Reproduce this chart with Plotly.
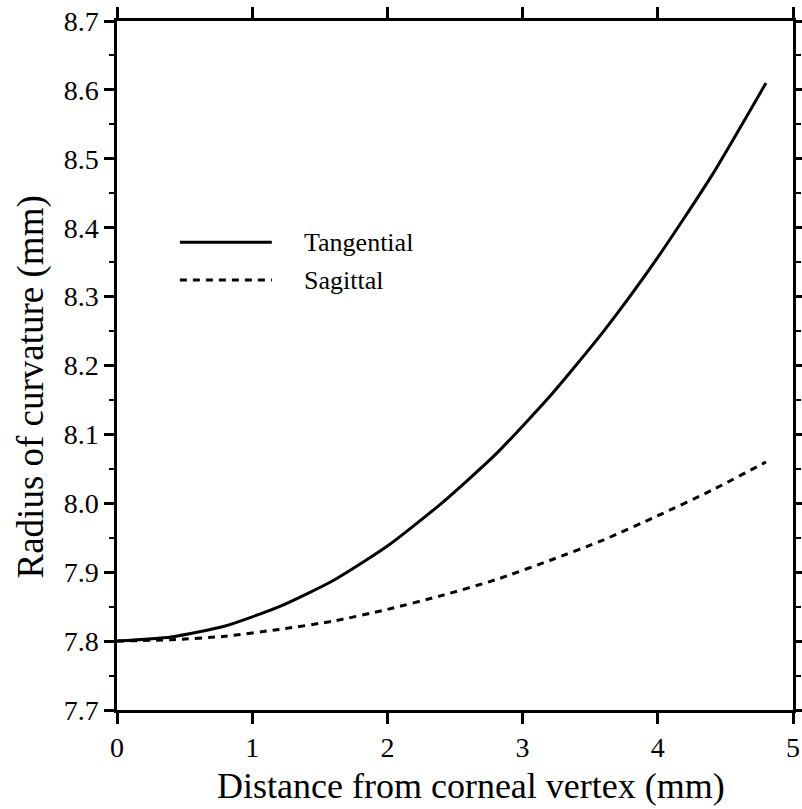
import plotly.graph_objects as go

# Radius of curvature along the cornea, tangential vs sagittal
distance_mm = [0.0, 0.4, 0.8, 1.2, 1.6, 2.0, 2.4, 2.8, 3.2, 3.6, 4.0, 4.4, 4.8]
tangential_mm = [7.800, 7.806, 7.822, 7.850, 7.888, 7.938, 8.000, 8.071, 8.155, 8.250, 8.357, 8.476, 8.610]
sagittal_mm = [7.800, 7.802, 7.807, 7.817, 7.829, 7.846, 7.866, 7.889, 7.917, 7.947, 7.982, 8.019, 8.060]

x_ticks = [0, 1, 2, 3, 4, 5]
y_ticks = [7.7, 7.8, 7.9, 8.0, 8.1, 8.2, 8.3, 8.4, 8.5, 8.6, 8.7]

FONT = "Liberation Serif, Times New Roman, serif"
INK = "black"

fig = go.Figure()
fig.add_trace(go.Scatter(
    x=distance_mm, y=tangential_mm, mode="lines", name="Tangential",
    line=dict(color=INK, width=3, shape="spline", smoothing=0.6),
))
fig.add_trace(go.Scatter(
    x=distance_mm, y=sagittal_mm, mode="lines", name="Sagittal",
    line=dict(color=INK, width=3, dash="7px,6px", shape="spline", smoothing=0.6),
))

axis_common = dict(
    showgrid=False, zeroline=False, showline=True, linecolor=INK, linewidth=2.5,
    mirror="allticks", ticks="outside", tickcolor=INK, tickwidth=2.5,
    tickfont=dict(family=FONT, size=28, color=INK), automargin=False,
)

fig.update_xaxes(
    range=[0, 5], tickvals=x_ticks, ticklen=11, **axis_common,
)
fig.update_yaxes(
    range=[7.7, 8.7], tickvals=y_ticks, tickformat=".1f", ticklen=10,
    minor=dict(dtick=0.05, ticklen=5, ticks="outside", tickcolor=INK, tickwidth=2),
    **axis_common,
)

# Legend drawn as sample strokes with labels beside them
legend_rows = [("Tangential", "solid", 0.679), ("Sagittal", "7px,6px", 0.624)]
for label, dash, yy in legend_rows:
    fig.add_shape(type="line", xref="paper", yref="paper",
                  x0=0.093, x1=0.229, y0=yy, y1=yy,
                  line=dict(color=INK, width=3, dash=dash))
    fig.add_annotation(text=label, xref="paper", yref="paper", x=0.274, y=yy,
                       xanchor="left", yanchor="middle", showarrow=False,
                       font=dict(family=FONT, size=26, color=INK))

# Axis titles
fig.add_annotation(text="Distance from corneal vertex (mm)", xref="paper", yref="paper",
                   x=0.5, y=0, xshift=16, yshift=-76, xanchor="center", yanchor="middle",
                   showarrow=False, font=dict(family=FONT, size=36, color=INK))
fig.add_annotation(text="Radius of curvature (mm)", xref="paper", yref="paper",
                   x=0, y=0.5, xshift=-87, yshift=-22, xanchor="center", yanchor="middle",
                   textangle=-90, showarrow=False, font=dict(family=FONT, size=37, color=INK))

fig.update_layout(
    width=802, height=809,
    margin=dict(l=117, r=9, t=21, b=99),
    paper_bgcolor="white", plot_bgcolor="white",
    showlegend=False,
)

fig.write_html("out.html")
